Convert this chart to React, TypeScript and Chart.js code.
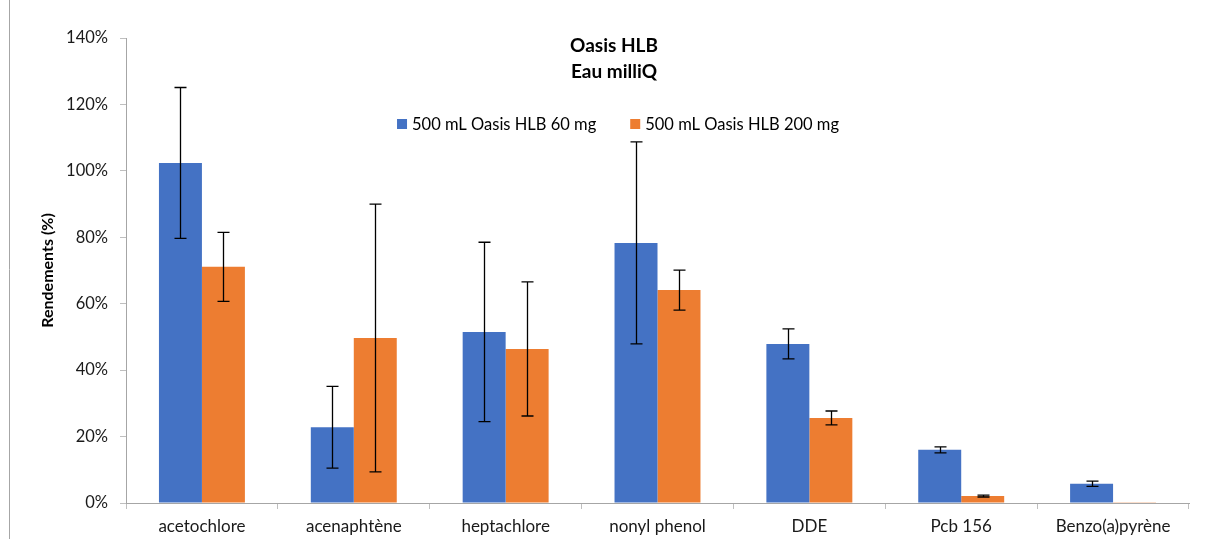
import React, { useEffect, useRef } from 'react';
import { Chart, registerables } from 'chart.js';

Chart.register(...registerables);

const categories = ['acetochlore', 'acenaphtène', 'heptachlore', 'nonyl phenol', 'DDE', 'Pcb 156', 'Benzo(a)pyrène'];
const series60Label = '500 mL Oasis HLB 60 mg';
const series200Label = '500 mL Oasis HLB 200 mg';
const series60 = [102.4, 22.8, 51.5, 78.3, 47.9, 16.0, 5.8];
const series60Err = [22.7, 12.3, 27.0, 30.4, 4.5, 0.9, 0.8];
const series200 = [71.1, 49.7, 46.4, 64.1, 25.6, 2.1, 0.2];
const series200Err = [10.4, 40.3, 20.2, 6.0, 2.1, 0.3, 0];
const titleLines = ['Oasis HLB', 'Eau milliQ'];
const yAxisTitle = 'Rendements (%)';
const yMin = 0;
const yMax = 140;
const yStep = 20;

const FONT = 'Lato';
const BLUE = '#4472C4';
const ORANGE = '#ED7D31';

const errorBarPlugin = {
  id: 'errorBars',
  afterDatasetsDraw(chart: any) {
    const ctx = chart.ctx;
    const y = chart.scales.y;
    chart.data.datasets.forEach((ds: any, di: number) => {
      const meta = chart.getDatasetMeta(di);
      const errs = ds.errors || [];
      meta.data.forEach((bar: any, i: number) => {
        const e = errs[i];
        if (!e) return;
        const v = ds.data[i];
        const yt = y.getPixelForValue(v + e);
        const yb = y.getPixelForValue(v - e);
        const x = Math.round(bar.x) + 0.5;
        const cap = 6;
        ctx.save();
        ctx.strokeStyle = '#000';
        ctx.lineWidth = 1.3;
        ctx.beginPath();
        ctx.moveTo(x, yt);
        ctx.lineTo(x, yb);
        ctx.moveTo(x - cap, yt);
        ctx.lineTo(x + cap, yt);
        ctx.moveTo(x - cap, yb);
        ctx.lineTo(x + cap, yb);
        ctx.stroke();
        ctx.restore();
      });
    });
  },
};

const decorPlugin = {
  id: 'decor',
  afterDraw(chart: any) {
    const ctx = chart.ctx;
    ctx.save();
    // left frame line
    ctx.strokeStyle = '#a6a6a6';
    ctx.lineWidth = 1;
    ctx.beginPath();
    ctx.moveTo(9.5, 0);
    ctx.lineTo(9.5, chart.height);
    ctx.stroke();

    // title
    ctx.fillStyle = '#000';
    ctx.font = `bold 19px ${FONT}`;
    ctx.textAlign = 'center';
    ctx.textBaseline = 'middle';
    ctx.fillText(titleLines[0], 614, 46);
    ctx.fillText(titleLines[1], 614, 72);

    // legend
    ctx.font = `16.5px ${FONT}`;
    ctx.textAlign = 'left';
    const ds = chart.data.datasets;
    const box = 10;
    const gap = 5;
    const itemGap = 34;
    const widths = ds.map((d: any) => ctx.measureText(d.label).width);
    let total = 0;
    widths.forEach((w: number, i: number) => {
      total += box + gap + w + (i < widths.length - 1 ? itemGap : 0);
    });
    let x = 618 - total / 2;
    const ly = 124;
    ds.forEach((d: any, i: number) => {
      ctx.fillStyle = d.backgroundColor;
      ctx.fillRect(x, ly - box / 2, box, box);
      ctx.fillStyle = '#000';
      ctx.fillText(d.label, x + box + gap, ly + 1);
      x += box + gap + widths[i] + itemGap;
    });
    ctx.restore();
  },
};

export default function App() {
  const ref = useRef<HTMLCanvasElement | null>(null);

  useEffect(() => {
    document.body.style.margin = '0';
    const canvas = ref.current;
    if (!canvas) return;
    const chart = new Chart(canvas, {
      type: 'bar',
      data: {
        labels: categories,
        datasets: [
          {
            label: series60Label,
            data: series60,
            errors: series60Err,
            backgroundColor: BLUE,
            borderWidth: 0,
            categoryPercentage: 0.566,
            barPercentage: 1.0,
          } as any,
          {
            label: series200Label,
            data: series200,
            errors: series200Err,
            backgroundColor: ORANGE,
            borderWidth: 0,
            categoryPercentage: 0.566,
            barPercentage: 1.0,
          } as any,
        ],
      },
      options: {
        animation: false,
        responsive: false,
        layout: { padding: { top: 38, right: 19, bottom: 0, left: 0 } },
        plugins: {
          legend: { display: false },
          title: { display: false },
          tooltip: { enabled: false },
        },
        scales: {
          x: {
            grid: {
              offset: true,
              drawOnChartArea: false,
              drawTicks: true,
              tickLength: 6,
              color: '#bfbfbf',
            },
            border: { color: '#a6a6a6', width: 1 },
            ticks: {
              font: { family: FONT, size: 17 },
              color: '#1a1a1a',
              padding: 7,
              maxRotation: 0,
              autoSkip: false,
            },
            afterFit: (s: any) => {
              s.height = 36;
            },
          },
          y: {
            min: yMin,
            max: yMax,
            grid: {
              drawOnChartArea: false,
              drawTicks: true,
              tickLength: 6,
              color: '#bfbfbf',
            },
            border: { color: '#a6a6a6', width: 1 },
            ticks: {
              stepSize: yStep,
              font: { family: FONT, size: 16.5 },
              color: '#1a1a1a',
              padding: 12,
              callback: (v: any) => `${v}%`,
            },
            title: {
              display: true,
              text: yAxisTitle,
              font: { family: FONT, size: 16, weight: 'bold' },
              color: '#000',
              padding: { top: 38, bottom: 0 },
            },
            afterFit: (s: any) => {
              s.width = 126;
            },
          },
        },
      },
      plugins: [errorBarPlugin, decorPlugin],
    });
    return () => chart.destroy();
  }, []);

  return (
    <div style={{ width: 1208, height: 539, position: 'relative', background: '#fff' }}>
      <canvas ref={ref} width={1208} height={539} style={{ display: 'block' }} />
    </div>
  );
}
